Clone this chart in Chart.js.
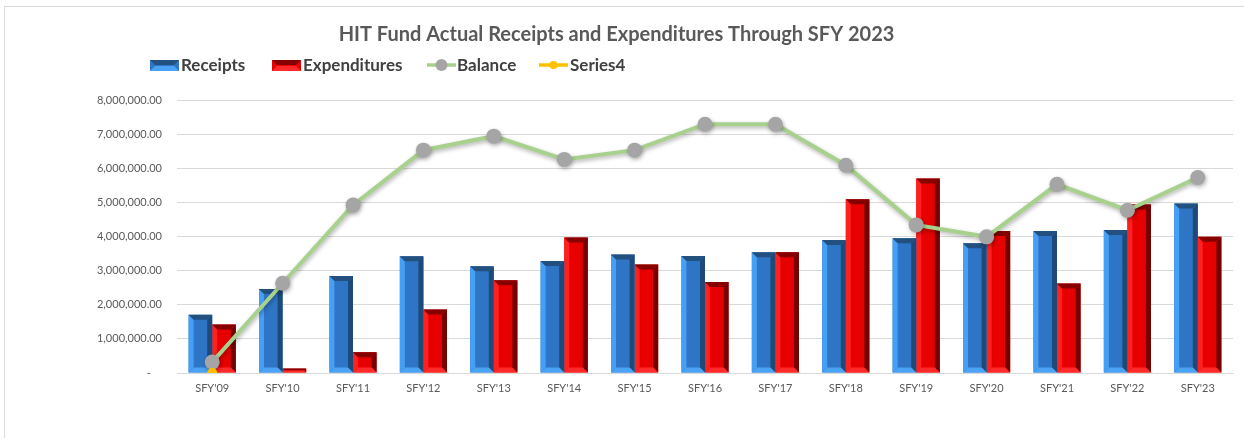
<!DOCTYPE html>
<html>
<head>
<meta charset="utf-8">
<script src="https://cdn.jsdelivr.net/npm/chart.js@4.4.1/dist/chart.umd.min.js"></script>
<style>
html,body{margin:0;padding:0;background:#fff;}
#wrap{position:relative;width:1244px;height:438px;}
</style>
</head>
<body>
<div id="wrap"><canvas id="c" width="1244" height="438"></canvas></div>
<script>
const categories = ["SFY'09","SFY'10","SFY'11","SFY'12","SFY'13","SFY'14","SFY'15","SFY'16","SFY'17","SFY'18","SFY'19","SFY'20","SFY'21","SFY'22","SFY'23"];
const receipts = [1710000,2460000,2840000,3420000,3130000,3280000,3470000,3430000,3540000,3900000,3950000,3800000,4160000,4190000,4970000];
const expenditures = [1420000,130000,610000,1860000,2720000,3970000,3180000,2670000,3540000,5090000,5700000,4160000,2620000,4940000,3990000];
const balance = [320000,2630000,4920000,6530000,6940000,6260000,6530000,7290000,7290000,6090000,4340000,3990000,5530000,4770000,5730000];
const series4 = [0,null,null,null,null,null,null,null,null,null,null,null,null,null,null];
const yTicks = [0,1000000,2000000,3000000,4000000,5000000,6000000,7000000,8000000];

const FONT = "Lato, 'Open Sans', 'Liberation Sans', sans-serif";
const GREY = '#595959';

const bevelStyles = {
  receipts: {left:'#45a0f5', right:'#1d4a78', top:'#22507f', bottom:'#4aa3f5'},
  expenditures: {left:'#ff2020', right:'#740000', top:'#860000', bottom:'#ff2a2a'}
};

const bevelPlugin = {
  id:'bevel',
  afterDatasetDraw(chart, args){
    const ds = chart.data.datasets[args.index];
    if (!ds.bevel) return;
    const st = bevelStyles[ds.bevel];
    const ctx = chart.ctx;
    const meta = args.meta;
    meta.data.forEach(el => {
      const w = el.width, x0 = el.x - w/2, x1 = el.x + w/2;
      const yT = Math.min(el.y, el.base), yB = Math.max(el.y, el.base);
      const h = yB - yT;
      const b = Math.min(5, h/2, w/2);
      if (h <= 0) return;
      ctx.save();
      ctx.fillStyle = st.left;
      ctx.beginPath(); ctx.moveTo(x0,yT); ctx.lineTo(x0+b,yT+b); ctx.lineTo(x0+b,yB-b); ctx.lineTo(x0,yB); ctx.closePath(); ctx.fill();
      ctx.fillStyle = st.right;
      ctx.beginPath(); ctx.moveTo(x1,yT); ctx.lineTo(x1-b,yT+b); ctx.lineTo(x1-b,yB-b); ctx.lineTo(x1,yB); ctx.closePath(); ctx.fill();
      ctx.fillStyle = st.top;
      ctx.beginPath(); ctx.moveTo(x0,yT); ctx.lineTo(x1,yT); ctx.lineTo(x1-b,yT+b); ctx.lineTo(x0+b,yT+b); ctx.closePath(); ctx.fill();
      ctx.fillStyle = st.bottom;
      ctx.beginPath(); ctx.moveTo(x0,yB); ctx.lineTo(x1,yB); ctx.lineTo(x1-b,yB-b); ctx.lineTo(x0+b,yB-b); ctx.closePath(); ctx.fill();
      ctx.restore();
    });
  }
};

const framePlugin = {
  id:'frame',
  beforeDraw(chart){
    const ctx = chart.ctx;
    ctx.save();
    ctx.fillStyle = '#fff';
    ctx.fillRect(0,0,chart.width,chart.height);
    ctx.strokeStyle = '#d9d9d9';
    ctx.lineWidth = 1;
    ctx.strokeRect(4.5, 6.5, 1300, 500);
    ctx.restore();
  }
};

function barMarker(ctx, x, y, w, h, face, st){
  ctx.fillStyle = face; ctx.fillRect(x,y,w,h);
  ctx.fillStyle = st.top;
  ctx.beginPath(); ctx.moveTo(x,y); ctx.lineTo(x+w,y); ctx.lineTo(x+w-5,y+5); ctx.lineTo(x+5,y+5); ctx.closePath(); ctx.fill();
  ctx.fillStyle = st.bottom;
  ctx.beginPath(); ctx.moveTo(x,y+h); ctx.lineTo(x+w,y+h); ctx.lineTo(x+w-5,y+h-5); ctx.lineTo(x+5,y+h-5); ctx.closePath(); ctx.fill();
}

const legendPlugin = {
  id:'customLegend',
  afterDraw(chart){
    const ctx = chart.ctx;
    ctx.save();
    ctx.font = "bold 17px " + FONT;
    ctx.textBaseline = 'middle';
    const y = 65;
    const items = [
      {type:'bar', face:'#2f75c5', st:bevelStyles.receipts, x:150, tx:181, label:chart.data.datasets[0].label},
      {type:'bar', face:'#e80000', st:bevelStyles.expenditures, x:272, tx:303, label:chart.data.datasets[1].label},
      {type:'line', color:'#a9d18e', pt:'#a5a5a5', r:6, x:427, tx:457, label:chart.data.datasets[2].label},
      {type:'line', color:'#ffc000', pt:'#ffc000', r:4, x:539, tx:570, label:chart.data.datasets[3].label}
    ];
    items.forEach(it => {
      if (it.type==='bar'){
        barMarker(ctx, it.x, y-5, 29, 11, it.face, it.st);
      } else {
        ctx.strokeStyle = it.color; ctx.lineWidth = 3.5;
        ctx.beginPath(); ctx.moveTo(it.x, y); ctx.lineTo(it.x+29, y); ctx.stroke();
        ctx.fillStyle = it.pt;
        ctx.beginPath(); ctx.arc(it.x+14.5, y, it.r, 0, Math.PI*2); ctx.fill();
      }
      ctx.fillStyle = '#404040';
      ctx.textAlign = 'left';
      ctx.fillText(it.label, it.tx, y+1);
    });
    ctx.restore();
  }
};

const shadowPlugin = {
  id:'shadow',
  beforeDatasetDraw(chart,args){
    const ds = chart.data.datasets[args.index];
    if (ds.label === 'Balance'){
      chart.ctx.save();
      chart.ctx.shadowColor = 'rgba(0,0,0,0.3)';
      chart.ctx.shadowBlur = 4;
      chart.ctx.shadowOffsetX = 1;
      chart.ctx.shadowOffsetY = 2;
    }
  },
  afterDatasetDraw(chart,args){
    const ds = chart.data.datasets[args.index];
    if (ds.label === 'Balance') chart.ctx.restore();
  }
};

function fmt(v){
  if (v === 0) return '-    ';
  return v.toLocaleString('en-US',{minimumFractionDigits:2, maximumFractionDigits:2});
}

new Chart(document.getElementById('c'), {
  data: {
    labels: categories,
    datasets: [
      {type:'bar', label:'Receipts', data:receipts, backgroundColor:'#2f75c5', bevel:'receipts', order:2, barPercentage:1.0, categoryPercentage:0.67},
      {type:'bar', label:'Expenditures', data:expenditures, backgroundColor:'#e60000', bevel:'expenditures', order:2, barPercentage:1.0, categoryPercentage:0.67},
      {type:'line', label:'Balance', data:balance, borderColor:'#a9d18e', borderWidth:4, pointBackgroundColor:'#a5a5a5', pointBorderColor:'#a5a5a5', pointRadius:7.5, pointBorderWidth:0, tension:0, order:1},
      {type:'line', label:'Series4', data:series4, borderColor:'#ffc000', borderWidth:3, pointBackgroundColor:'#ffc000', pointBorderColor:'#ffc000', pointRadius:5, pointBorderWidth:0, order:0}
    ]
  },
  options: {
    responsive:false,
    animation:false,
    devicePixelRatio:1,
    layout:{padding:{left:0, right:11, top:0, bottom:45}},
    plugins:{
      legend:{display:false},
      tooltip:{enabled:false},
      title:{
        display:true,
        text:'HIT Fund Actual Receipts and Expenditures Through SFY 2023',
        color:GREY,
        font:{family:FONT, size:20, weight:'bold'},
        padding:{top:23, bottom:53}
      }
    },
    scales:{
      x:{
        grid:{display:false, drawTicks:false},
        border:{display:true, color:'#d9d9d9', width:1},
        ticks:{color:GREY, font:{family:FONT, size:11}, padding:9, maxRotation:0},
        afterFit(s){ s.height = 20; }
      },
      y:{
        min:0, max:8000000,
        afterBuildTicks(s){ s.ticks = yTicks.map(v=>({value:v})); },
        grid:{color:'#d9d9d9', lineWidth:1, drawTicks:false},
        border:{display:false},
        ticks:{color:GREY, font:{family:FONT, size:11}, padding:15, callback:(v)=>fmt(v)},
        afterFit(s){ s.width = 177; }
      }
    }
  },
  plugins:[framePlugin, bevelPlugin, shadowPlugin, legendPlugin]
});
</script>
</body>
</html>
